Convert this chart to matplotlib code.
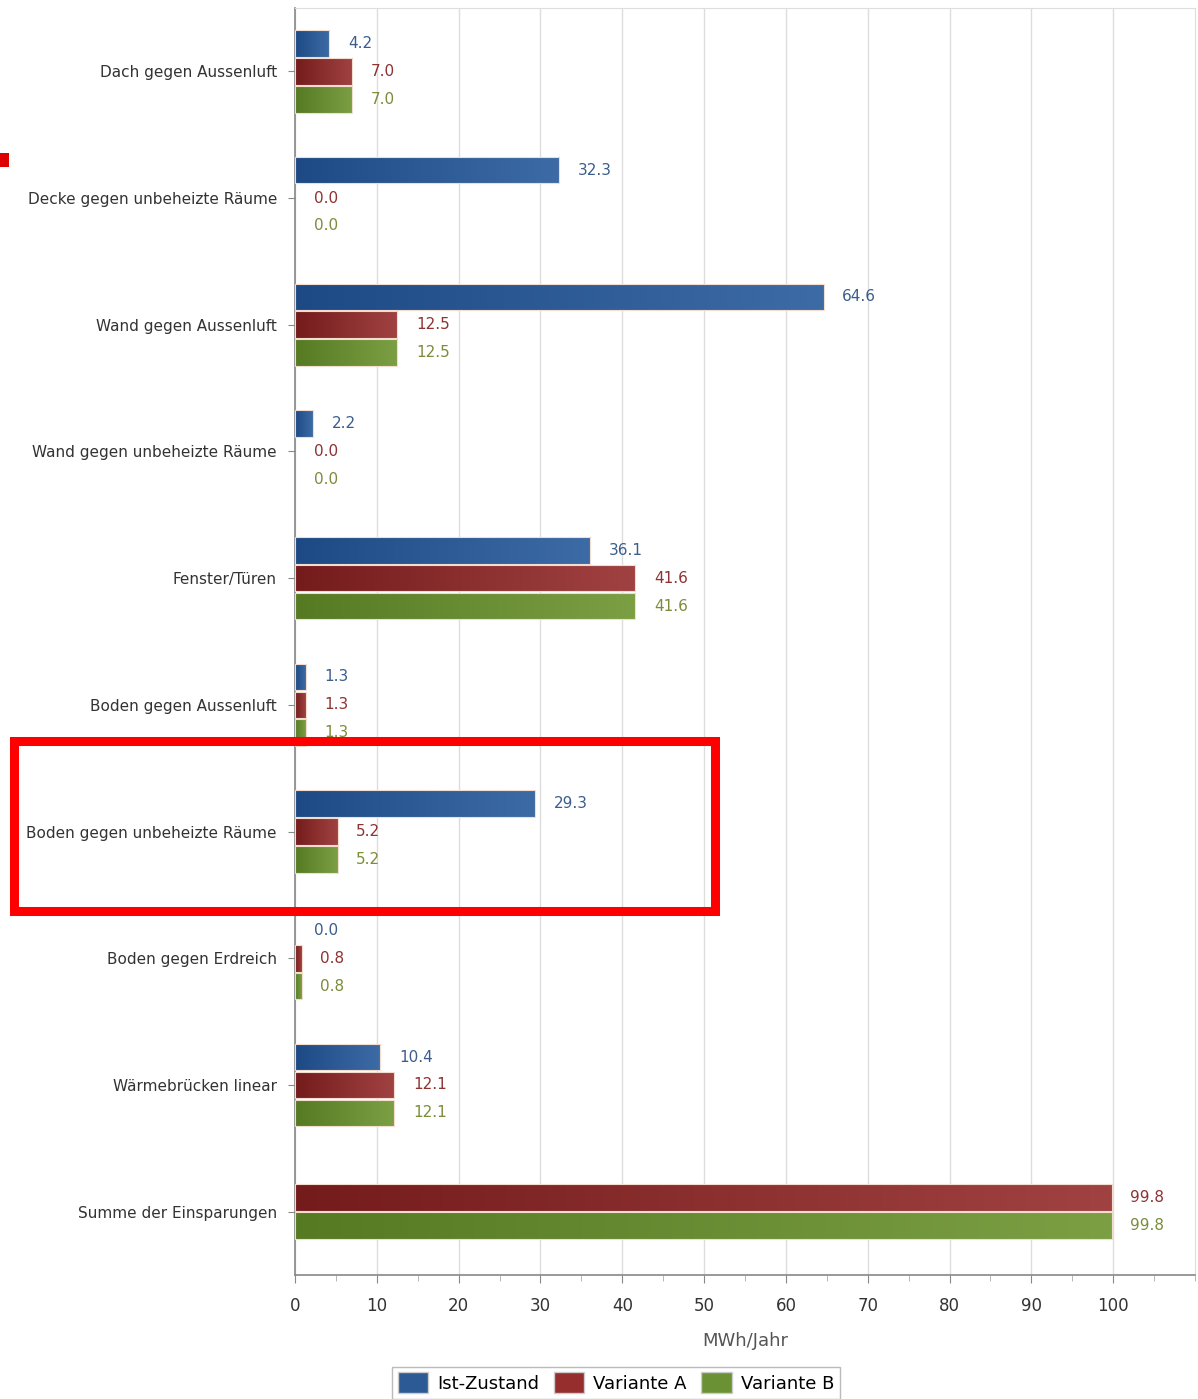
import matplotlib
matplotlib.use("Agg")
import matplotlib.pyplot as plt
import numpy as np
from matplotlib.colors import LinearSegmentedColormap
from matplotlib.patches import Rectangle, Patch
from matplotlib.ticker import MultipleLocator

categories = [
    "Dach gegen Aussenluft",
    "Decke gegen unbeheizte Räume",
    "Wand gegen Aussenluft",
    "Wand gegen unbeheizte Räume",
    "Fenster/Türen",
    "Boden gegen Aussenluft",
    "Boden gegen unbeheizte Räume",
    "Boden gegen Erdreich",
    "Wärmebrücken linear",
    "Summe der Einsparungen",
]
ist_zustand = [4.2, 32.3, 64.6, 2.2, 36.1, 1.3, 29.3, 0.0, 10.4, None]
variante_a = [7.0, 0.0, 12.5, 0.0, 41.6, 1.3, 5.2, 0.8, 12.1, 99.8]
variante_b = [7.0, 0.0, 12.5, 0.0, 41.6, 1.3, 5.2, 0.8, 12.1, 99.8]
series_names = ["Ist-Zustand", "Variante A", "Variante B"]

# (dark left, light right, label colour, legend colour)
styles = [
    ("#1d4a85", "#3d6ba6", "#3a5d8c", "#2c5a94"),
    ("#741b1b", "#a14242", "#8e3232", "#962e2e"),
    ("#557a22", "#7c9f44", "#7b8c3a", "#6a9234"),
]

fig = plt.figure(figsize=(11.98, 13.99), dpi=100)
ax = fig.add_axes([295 / 1198, 1 - 1275 / 1399, 900 / 1198, 1267 / 1399])

bar_h = 0.21
step = 0.22
all_series = [ist_zustand, variante_a, variante_b]

for i, cat in enumerate(categories):
    present = [k for k in range(3) if all_series[k][i] is not None]
    n = len(present)
    for j, k in enumerate(present):
        val = all_series[k][i]
        y = i + (j - (n - 1) / 2) * step
        dark, light, tcol, _ = styles[k]
        bars = ax.barh(y, val, height=bar_h, color=light, edgecolor="none", zorder=2)
        if val > 0:
            p = bars.patches[0]
            cmap = LinearSegmentedColormap.from_list("g", [dark, light])
            grad = np.linspace(0, 1, 256).reshape(1, -1)
            im = ax.imshow(grad, cmap=cmap, aspect="auto", zorder=2.5,
                           extent=[0, val, y + bar_h / 2, y - bar_h / 2])
            im.set_clip_path(p)
            ax.barh(y, val, height=bar_h, color="none",
                    edgecolor="#f3dcd0", linewidth=0.8, zorder=3)
        ax.text(val + 2.3, y, f"{val:.1f}", color=tcol, fontsize=11,
                va="center", ha="left", zorder=4)

ax.set_xlim(0, 110)
ax.set_ylim(9.5, -0.5)
ax.set_yticks(range(len(categories)))
ax.set_yticklabels(categories, fontsize=11, color="#333333")
ax.xaxis.set_major_locator(MultipleLocator(10))
ax.xaxis.set_minor_locator(MultipleLocator(5))
ax.set_xticks(range(0, 101, 10))
ax.tick_params(axis="x", which="major", labelsize=12, labelcolor="#333333",
               color="#888888", length=6, pad=10)
ax.tick_params(axis="x", which="minor", color="#aaaaaa", length=4)
ax.tick_params(axis="y", color="#888888", length=5, pad=8)
ax.grid(axis="x", which="major", color="#dddddd", linewidth=1, zorder=0)
ax.set_axisbelow(True)
ax.set_xlabel("MWh/Jahr", fontsize=13, color="#555555", labelpad=12)

for side in ["top", "right"]:
    ax.spines[side].set_color("#dddddd")
for side in ["left", "bottom"]:
    ax.spines[side].set_color("#888888")
    ax.spines[side].set_linewidth(1.2)

handles = [Patch(facecolor=styles[k][3], edgecolor="#cccccc") for k in range(3)]
leg = fig.legend(handles, series_names, loc="upper center", ncol=3,
                 bbox_to_anchor=(616 / 1198, 1 - 1358 / 1399), fontsize=13,
                 frameon=True, fancybox=False, edgecolor="#aaaaaa",
                 handlelength=1.7, handleheight=1.4, columnspacing=0.8,
                 handletextpad=0.5, borderpad=0.3)

# red highlight annotations
fig.patches.append(Rectangle((14 / 1198, 1 - 911 / 1399), 701 / 1198, 170 / 1399,
                             transform=fig.transFigure, fill=False,
                             edgecolor="#ff0000", linewidth=6.5, zorder=10))
fig.patches.append(Rectangle((0, 1 - 167 / 1399), 9 / 1198, 14 / 1399,
                             transform=fig.transFigure, facecolor="#dd0000",
                             edgecolor="none", zorder=10))

fig.savefig("out.png", dpi=100)
